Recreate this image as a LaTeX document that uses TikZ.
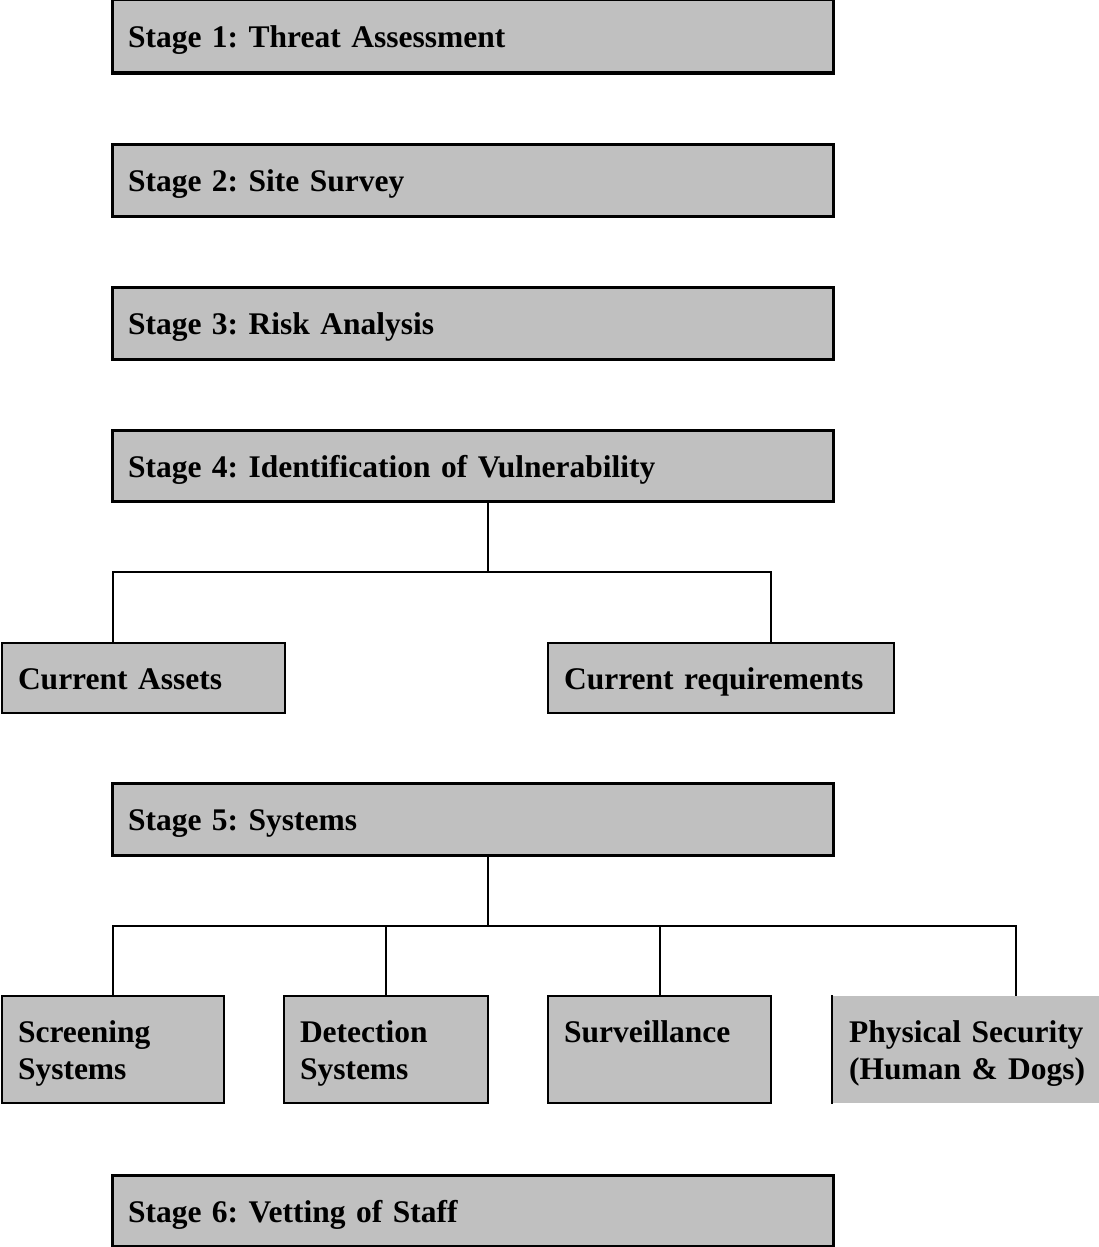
\documentclass[tikz,border=0pt]{standalone}
\usepackage{fontspec}
\setmainfont{Liberation Serif}
\definecolor{boxgray}{HTML}{C0C0C0}
\begin{document}
\frenchspacing
\begin{tikzpicture}[x=1pt,y=-1pt,
  box/.style={rectangle, fill=boxgray, draw=black, line width=2pt,
    inner xsep=16pt, inner ysep=0pt, align=left,
    text height=23pt, text depth=0pt,
    font=\fontsize{31.5}{37}\selectfont\bfseries},
  tallbox/.style={box, text height=24pt, text depth=39pt, minimum height=107pt},
  stagebox/.style={box, line width=3pt, minimum width=721pt, text width=689pt},
  link/.style={draw=black, line width=2pt}]
\useasboundingbox (0,0) rectangle (1099,1247);

% main stages
\node[stagebox, minimum height=73pt] (s1) at (472.5,36.5) {Stage 1: Threat Assessment};
\node[stagebox, minimum height=72pt] (s2) at (472.5,180) {Stage 2: Site Survey};
\node[stagebox, minimum height=72pt] (s3) at (472.5,323) {Stage 3: Risk Analysis};
\node[stagebox, minimum height=71pt] (s4) at (472.5,465.5) {Stage 4: Identification of Vulnerability};
\node[stagebox, minimum height=72pt] (s5) at (472.5,819) {Stage 5: Systems};
\node[stagebox, minimum height=71pt] (s6) at (472.5,1210.5) {Stage 6: Vetting of Staff};

% stage 4 branches
\node[box, minimum width=283pt, text width=251pt, minimum height=70pt] (ca) at (143.5,678) {Current Assets};
\node[box, minimum width=346pt, text width=314pt, minimum height=70pt] (cr) at (721,678) {Current requirements};

% stage 5 branches
\node[tallbox, minimum width=222pt, text width=190pt] (b1) at (113,1049.5) {Screening\\Systems};
\node[tallbox, minimum width=204pt, text width=172pt] (b2) at (386,1049.5) {Detection\\Systems};
\node[tallbox, minimum width=223pt, text width=191pt] (b3) at (659.5,1049.5) {Surveillance};
% last box runs off the right edge: only its left side is ruled
\node[tallbox, draw=none, anchor=west, text width=251pt] (b4) at (832,1049.5) {Physical Security\\(Human \& Dogs)};
\draw[line width=2pt] (b4.north west) -- (b4.south west);

% junction points
\coordinate (j4) at (488,572);
\coordinate (ta) at (113,643);
\coordinate (tb) at (771,643);
\coordinate (j5) at (488,926);
\coordinate (td) at (1016,996);

% connectors
\path[link] (j4 |- s4.south) -- (j4);
\path[link] (ta) |- (j4) -| (tb);
\path[link] (j5 |- s5.south) -- (j5);
\path[link] (b1.north) |- (j5) -| (td);
\path[link] (b2.north) -- (b2.north |- j5);
\path[link] (b3.north) -- (b3.north |- j5);
\end{tikzpicture}
\end{document}
